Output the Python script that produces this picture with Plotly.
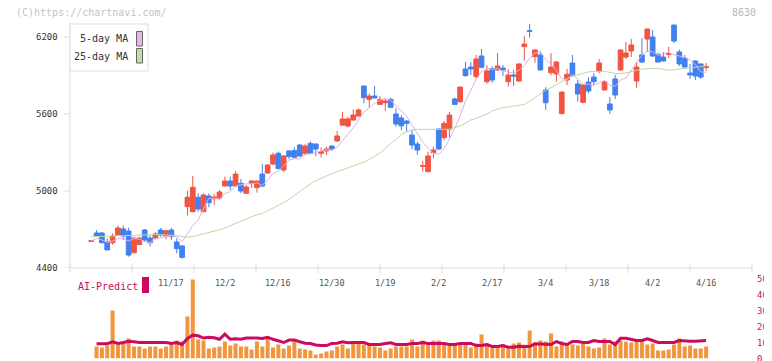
import plotly.graph_objects as go
import pandas as pd

OFF = 8            # the page body margin offsets the figure by 8px
W, H = 772 - OFF, 361 - OFF

# ---------------- data ----------------
idx = list(range(116))
open_ = [4608, 4673, 4673, 4603, 4597, 4657, 4704, 4688, 4519, 4582,
         4696, 4633, 4633, 4696, 4649, 4696, 4603, 4572, 4878, 4839,
         4951, 4839, 4961, 4940, 4945, 5039, 5078, 5039, 5060, 4982,
         5060, 5026, 5132, 5140, 5210, 5294, 5164, 5312, 5315, 5358,
         5294, 5371, 5366, 5294, 5312, 5350, 5390, 5514, 5506, 5553,
         5584, 5818, 5714, 5740, 5675, 5688, 5714, 5600, 5569, 5545,
         5436, 5366, 5193, 5151, 5299, 5483, 5416, 5481, 5717, 5696,
         5951, 5966, 5891, 6052, 5852, 5953, 5943, 5958, 5852, 5904,
         5857, 6125, 6250, 6047, 6060, 5787, 5922, 5912, 5603, 5865,
         5997, 5834, 5691, 5849, 5888, 5935, 5787, 5678, 5873, 5943,
         6044, 6091, 5857, 6060, 6184, 6200, 6067, 6044, 6064, 6293,
         6083, 6036, 5919, 6013, 5990, 5963]
high = [4612, 4696, 4681, 4631, 4670, 4730, 4730, 4714, 4644, 4644,
        4704, 4654, 4681, 4712, 4696, 4712, 4631, 4575, 5000, 5117,
        4982, 4982, 4982, 4977, 5008, 5112, 5112, 5156, 5094, 5047,
        5083, 5081, 5210, 5206, 5299, 5307, 5281, 5315, 5340, 5366,
        5366, 5387, 5369, 5340, 5345, 5358, 5468, 5616, 5579, 5636,
        5644, 5821, 5761, 5818, 5740, 5722, 5727, 5644, 5592, 5553,
        5475, 5384, 5236, 5306, 5345, 5486, 5545, 5616, 5727, 5813,
        6005, 6005, 6060, 6106, 5979, 5969, 6075, 5982, 5951, 5943,
        5993, 6208, 6301, 6102, 6091, 5810, 6073, 6013, 5774, 5951,
        6060, 5865, 5829, 5888, 5919, 6029, 5865, 5732, 5904, 6102,
        6161, 6184, 6005, 6192, 6265, 6255, 6070, 6083, 6122, 6296,
        6101, 6060, 5990, 6016, 5993, 5997]
low = [4608, 4649, 4592, 4538, 4582, 4652, 4618, 4488, 4515, 4580,
       4607, 4566, 4623, 4644, 4623, 4618, 4514, 4473, 4808, 4835,
       4839, 4836, 4873, 4891, 4930, 5036, 5008, 5036, 4982, 4977,
       5023, 4987, 5029, 5138, 5203, 5171, 5148, 5247, 5257, 5268,
       5281, 5288, 5273, 5260, 5281, 5314, 5382, 5506, 5496, 5550,
       5579, 5683, 5652, 5722, 5670, 5623, 5649, 5501, 5475, 5462,
       5325, 5281, 5151, 5143, 5255, 5319, 5397, 5416, 5670, 5688,
       5891, 5904, 5875, 5956, 5836, 5844, 5935, 5896, 5813, 5818,
       5852, 6016, 6195, 6000, 5940, 5631, 5904, 5852, 5597, 5826,
       5891, 5696, 5683, 5761, 5826, 5919, 5784, 5600, 5717, 5935,
       6029, 6044, 5803, 5997, 6083, 6044, 6000, 6010, 6036, 6153,
       5974, 5958, 5873, 5865, 5873, 5935]
close = [4612, 4649, 4597, 4541, 4649, 4712, 4649, 4501, 4633, 4633,
         4618, 4597, 4665, 4657, 4691, 4644, 4551, 4483, 4951, 5029,
         4860, 4969, 4909, 4953, 4992, 5078, 5039, 5132, 5000, 5031,
         5078, 5078, 5039, 5203, 5281, 5174, 5273, 5268, 5263, 5273,
         5350, 5294, 5327, 5307, 5327, 5327, 5429, 5561, 5561, 5592,
         5631, 5727, 5740, 5725, 5714, 5701, 5652, 5522, 5508, 5527,
         5358, 5319, 5197, 5273, 5319, 5327, 5527, 5592, 5675, 5810,
         5899, 5951, 6029, 5964, 5935, 5865, 5974, 5943, 5904, 5896,
         5990, 6145, 6244, 6099, 5943, 5688, 5966, 6005, 5771, 5909,
         5899, 5756, 5826, 5779, 5852, 5997, 5852, 5631, 5748, 6099,
         6075, 6138, 5966, 6005, 6262, 6052, 6005, 6013, 6070, 6169,
         5990, 5966, 5904, 5896, 5888, 5969]
ma25 = [4644, 4644, 4645, 4646, 4648, 4650, 4652, 4655, 4658, 4660,
        4661, 4661, 4661, 4660, 4659, 4657, 4652, 4645, 4640, 4645,
        4655, 4668, 4680, 4690, 4698, 4712, 4730, 4750, 4770, 4787,
        4800, 4815, 4826, 4845, 4865, 4885, 4910, 4935, 4965, 5000,
        5030, 5055, 5080, 5100, 5115, 5135, 5150, 5165, 5178, 5190,
        5205, 5225, 5245, 5267, 5295, 5330, 5370, 5400, 5440, 5460,
        5478, 5480, 5481, 5481, 5481, 5481, 5481, 5481, 5495, 5506,
        5530, 5553, 5565, 5580, 5600, 5625, 5640, 5650, 5655, 5660,
        5668, 5675, 5700, 5730, 5760, 5785, 5805, 5830, 5855, 5875,
        5895, 5908, 5918, 5928, 5932, 5934, 5932, 5925, 5915, 5916,
        5920, 5930, 5940, 5950, 5953, 5955, 5956, 5948, 5942, 5945,
        5952, 5956, 5958, 5962, 5970, 5975]

ai_idx = list(range(1, 116))
ai_bar = [7.5, 6.9, 8.1, 30, 8.75, 10.2, 12.5, 7.5, 7.5, 6.25,
          7.5, 7.5, 6.25, 7.5, 8.75, 11.25, 10.6, 26.25, 49.4, 11.9,
          11.25, 6.25, 6.9, 7.5, 10.6, 8.1, 9.4, 7.5, 7.5, 5.6,
          10.6, 7.5, 12.5, 6.9, 8.75, 6.25, 8.1, 11.25, 6.25, 5.6,
          5.0, 2.5, 3.1, 4.4, 5.0, 7.5, 8.75, 6.25, 10, 10,
          8.75, 8.75, 7.5, 6.9, 5.0, 6.25, 7.5, 7.5, 7.5, 11.9,
          7.5, 11.25, 8.75, 11.25, 11.25, 8.75, 8.1, 8.75, 8.75, 8.75,
          6.9, 9.4, 15, 9.4, 6.9, 7.5, 8.75, 6.25, 9.4, 10,
          8.1, 17.5, 10, 11.25, 10.6, 15.6, 7.5, 10.6, 9.4, 8.75,
          8.1, 9.4, 7.5, 6.25, 6.9, 12.5, 8.75, 10.6, 11.25, 10.6,
          10, 10.6, 11.25, 8.75, 9.4, 5.0, 5.0, 5.6, 8.75, 12.5,
          7.5, 8.1, 6.25, 6.25, 7.5]
ai_line = [9.2, 9.2, 9.2, 10.4, 9.4, 10, 10.8, 10.5, 10, 10,
           10, 10, 10, 10, 9.4, 10, 8.75, 12.5, 14.6, 14.2,
           12.8, 13.3, 13, 12, 15.2, 12, 12.3, 12, 12.8, 13,
           12.8, 12.5, 13.3, 12, 10.8, 10, 11.5, 11.5, 10.5, 9.6,
           9.4, 8.5, 8.1, 8.1, 9.4, 9.6, 10.5, 9.8, 10, 10,
           10, 8.75, 8.75, 8.75, 9.4, 9.8, 8.75, 8.75, 8.75, 9.4,
           9.4, 10, 9.4, 9.4, 9.4, 9.4, 8.75, 8.75, 9.4, 9.4,
           9.4, 8.1, 8.1, 8.75, 7.5, 7.5, 8.1, 7.1, 7.1, 7.7,
           7.7, 7.5, 9.2, 9, 8.75, 8.75, 10.6, 9.4, 8.75, 10.6,
           10.6, 10, 10, 11.25, 10.6, 10.6, 10.6, 8.75, 12.7, 12.7,
           11.9, 11.25, 11.25, 12.3, 11.25, 10, 10, 10, 10, 11.25,
           10.8, 10.8, 10.8, 10.8, 11.25, 9.8]

tick_labels = ["11/17", "12/2", "12/16", "12/30", "1/19", "2/2",
               "2/17", "3/4", "3/18", "4/2", "4/16"]
tick_index = [15, 25, 35, 45, 55, 65, 75, 85, 95, 105, 115]
price_ticks = [4400, 5000, 5600, 6200]
ai_ticks = [0, 10, 20, 30, 40, 50]

ma5 = pd.Series(close).rolling(5, min_periods=1).mean().tolist()

# ---------------- style ----------------
RED = "#f25442"
BLUE = "#4180ee"
PINK = "#e6aee6"
GREEN = "#b6dca4"
CRIMSON = "#cc0a5e"
ORANGE = "#f2963e"
AXIS = "#dddddd"
MONO = "DejaVu Sans Mono"


def px(x):
    return (x - OFF) / W


def py(y):
    return 1 - (y - OFF) / H


fig = go.Figure()

fig.add_trace(go.Scatter(x=idx, y=ma25, mode="lines", line=dict(color=GREEN, width=1),
                         hoverinfo="skip", showlegend=False, xaxis="x", yaxis="y"))
fig.add_trace(go.Scatter(x=idx, y=ma5, mode="lines", line=dict(color=PINK, width=1),
                         hoverinfo="skip", showlegend=False, xaxis="x", yaxis="y"))
fig.add_trace(go.Candlestick(
    x=idx, open=open_, high=high, low=low, close=close,
    increasing=dict(line=dict(color=RED, width=1), fillcolor=RED),
    decreasing=dict(line=dict(color=BLUE, width=1), fillcolor=BLUE),
    whiskerwidth=0, hoverinfo="skip", showlegend=False, xaxis="x", yaxis="y"))

fig.add_trace(go.Bar(x=ai_idx, y=ai_bar, marker=dict(color=ORANGE, line=dict(width=0)),
                     hoverinfo="skip", showlegend=False, xaxis="x2", yaxis="y2"))
fig.add_trace(go.Scatter(x=ai_idx, y=ai_line, mode="lines",
                         line=dict(color=CRIMSON, width=3),
                         hoverinfo="skip", showlegend=False, xaxis="x2", yaxis="y2"))

xr = [(70 - 91.2) / 5.347, (752 - 91.2) / 5.347]
ax_common = dict(showgrid=False, zeroline=False, showticklabels=False, ticks="",
                 showline=False, fixedrange=True)

fig.update_layout(
    width=W, height=H, autosize=False,
    margin=dict(l=0, r=0, t=0, b=0, pad=0),
    paper_bgcolor="white", plot_bgcolor="white",
    boxgap=0.12, boxgroupgap=0, bargap=0.25,
    xaxis=dict(domain=[px(70), px(752)], range=xr, rangeslider=dict(visible=False), **ax_common),
    yaxis=dict(domain=[py(268), py(22)], range=[4400, 4400 + 246 * 600 / 77], **ax_common),
    xaxis2=dict(domain=[px(70), px(752)], range=xr, anchor="y2", **ax_common),
    yaxis2=dict(domain=[py(358.5), py(278.5)], range=[0, 50], anchor="x2", **ax_common),
    showlegend=False,
)

shapes = []
shapes.append(dict(type="line", xref="paper", yref="paper", x0=px(70), x1=px(70),
                   y0=py(22), y1=py(268), line=dict(color=AXIS, width=1)))
shapes.append(dict(type="line", xref="paper", yref="paper", x0=px(70), x1=px(752),
                   y0=py(268), y1=py(268), line=dict(color=AXIS, width=1)))
for k in range(12):
    xx = px(70 + 62 * k)
    shapes.append(dict(type="line", xref="paper", yref="paper", x0=xx, x1=xx,
                       y0=py(264), y1=py(273), line=dict(color=AXIS, width=1)))
for p in price_ticks:
    shapes.append(dict(type="line", xref="paper", yref="y", x0=px(64), x1=px(70),
                       y0=p, y1=p, line=dict(color=AXIS, width=1)))
shapes.append(dict(type="rect", xref="paper", yref="paper", x0=px(70), x1=px(148),
                   y0=py(71), y1=py(24), line=dict(color=AXIS, width=1), fillcolor="white"))
shapes.append(dict(type="rect", xref="paper", yref="paper", x0=px(136.5), x1=px(142.5),
                   y0=py(46), y1=py(31.5), line=dict(color="#666666", width=1), fillcolor="#e8b6e8"))
shapes.append(dict(type="rect", xref="paper", yref="paper", x0=px(136.5), x1=px(142.5),
                   y0=py(63), y1=py(48.5), line=dict(color="#666666", width=1), fillcolor="#bde0ab"))
shapes.append(dict(type="rect", xref="paper", yref="paper", x0=px(142), x1=px(149),
                   y0=py(293), y1=py(277), line=dict(width=0), fillcolor=CRIMSON))
fig.update_layout(shapes=shapes)

ann = []
ann.append(dict(text="(C)https://chartnavi.com/", xref="paper", yref="paper",
                x=px(14), y=py(12.5), xanchor="left", yanchor="middle", showarrow=False,
                font=dict(family=MONO, size=10, color="#c4c4c4")))
ann.append(dict(text="8630", xref="paper", yref="paper",
                x=px(758), y=py(12.5), xanchor="right", yanchor="middle", showarrow=False,
                font=dict(family=MONO, size=10, color="#b8b8b8")))
ann.append(dict(text="5-day MA", xref="paper", yref="paper",
                x=px(130), y=py(38.5), xanchor="right", yanchor="middle", showarrow=False,
                font=dict(family=MONO, size=10, color="#333333")))
ann.append(dict(text="25-day MA", xref="paper", yref="paper",
                x=px(130), y=py(56.5), xanchor="right", yanchor="middle", showarrow=False,
                font=dict(family=MONO, size=10, color="#333333")))
for p in price_ticks:
    ann.append(dict(text=str(p), xref="paper", yref="y", x=px(60), y=p,
                    xanchor="right", yanchor="middle", showarrow=False,
                    font=dict(family=MONO, size=9, color="#333333")))
for lab, i in zip(tick_labels, tick_index):
    ann.append(dict(text=lab, xref="x", yref="paper", x=i, y=py(282.5),
                    xanchor="center", yanchor="middle", showarrow=False,
                    font=dict(family=MONO, size=8.5, color="#555555")))
for v in ai_ticks:
    ann.append(dict(text=str(v), xref="paper", yref="y2", x=px(755), y=v,
                    xanchor="left", yanchor="middle", showarrow=False,
                    font=dict(family=MONO, size=9, color=CRIMSON)))
ann.append(dict(text="AI-Predict", xref="paper", yref="paper",
                x=px(75.5), y=py(286), xanchor="left", yanchor="middle", showarrow=False,
                font=dict(family=MONO, size=10, color=CRIMSON)))
fig.update_layout(annotations=ann)

fig.write_html("out.html")
